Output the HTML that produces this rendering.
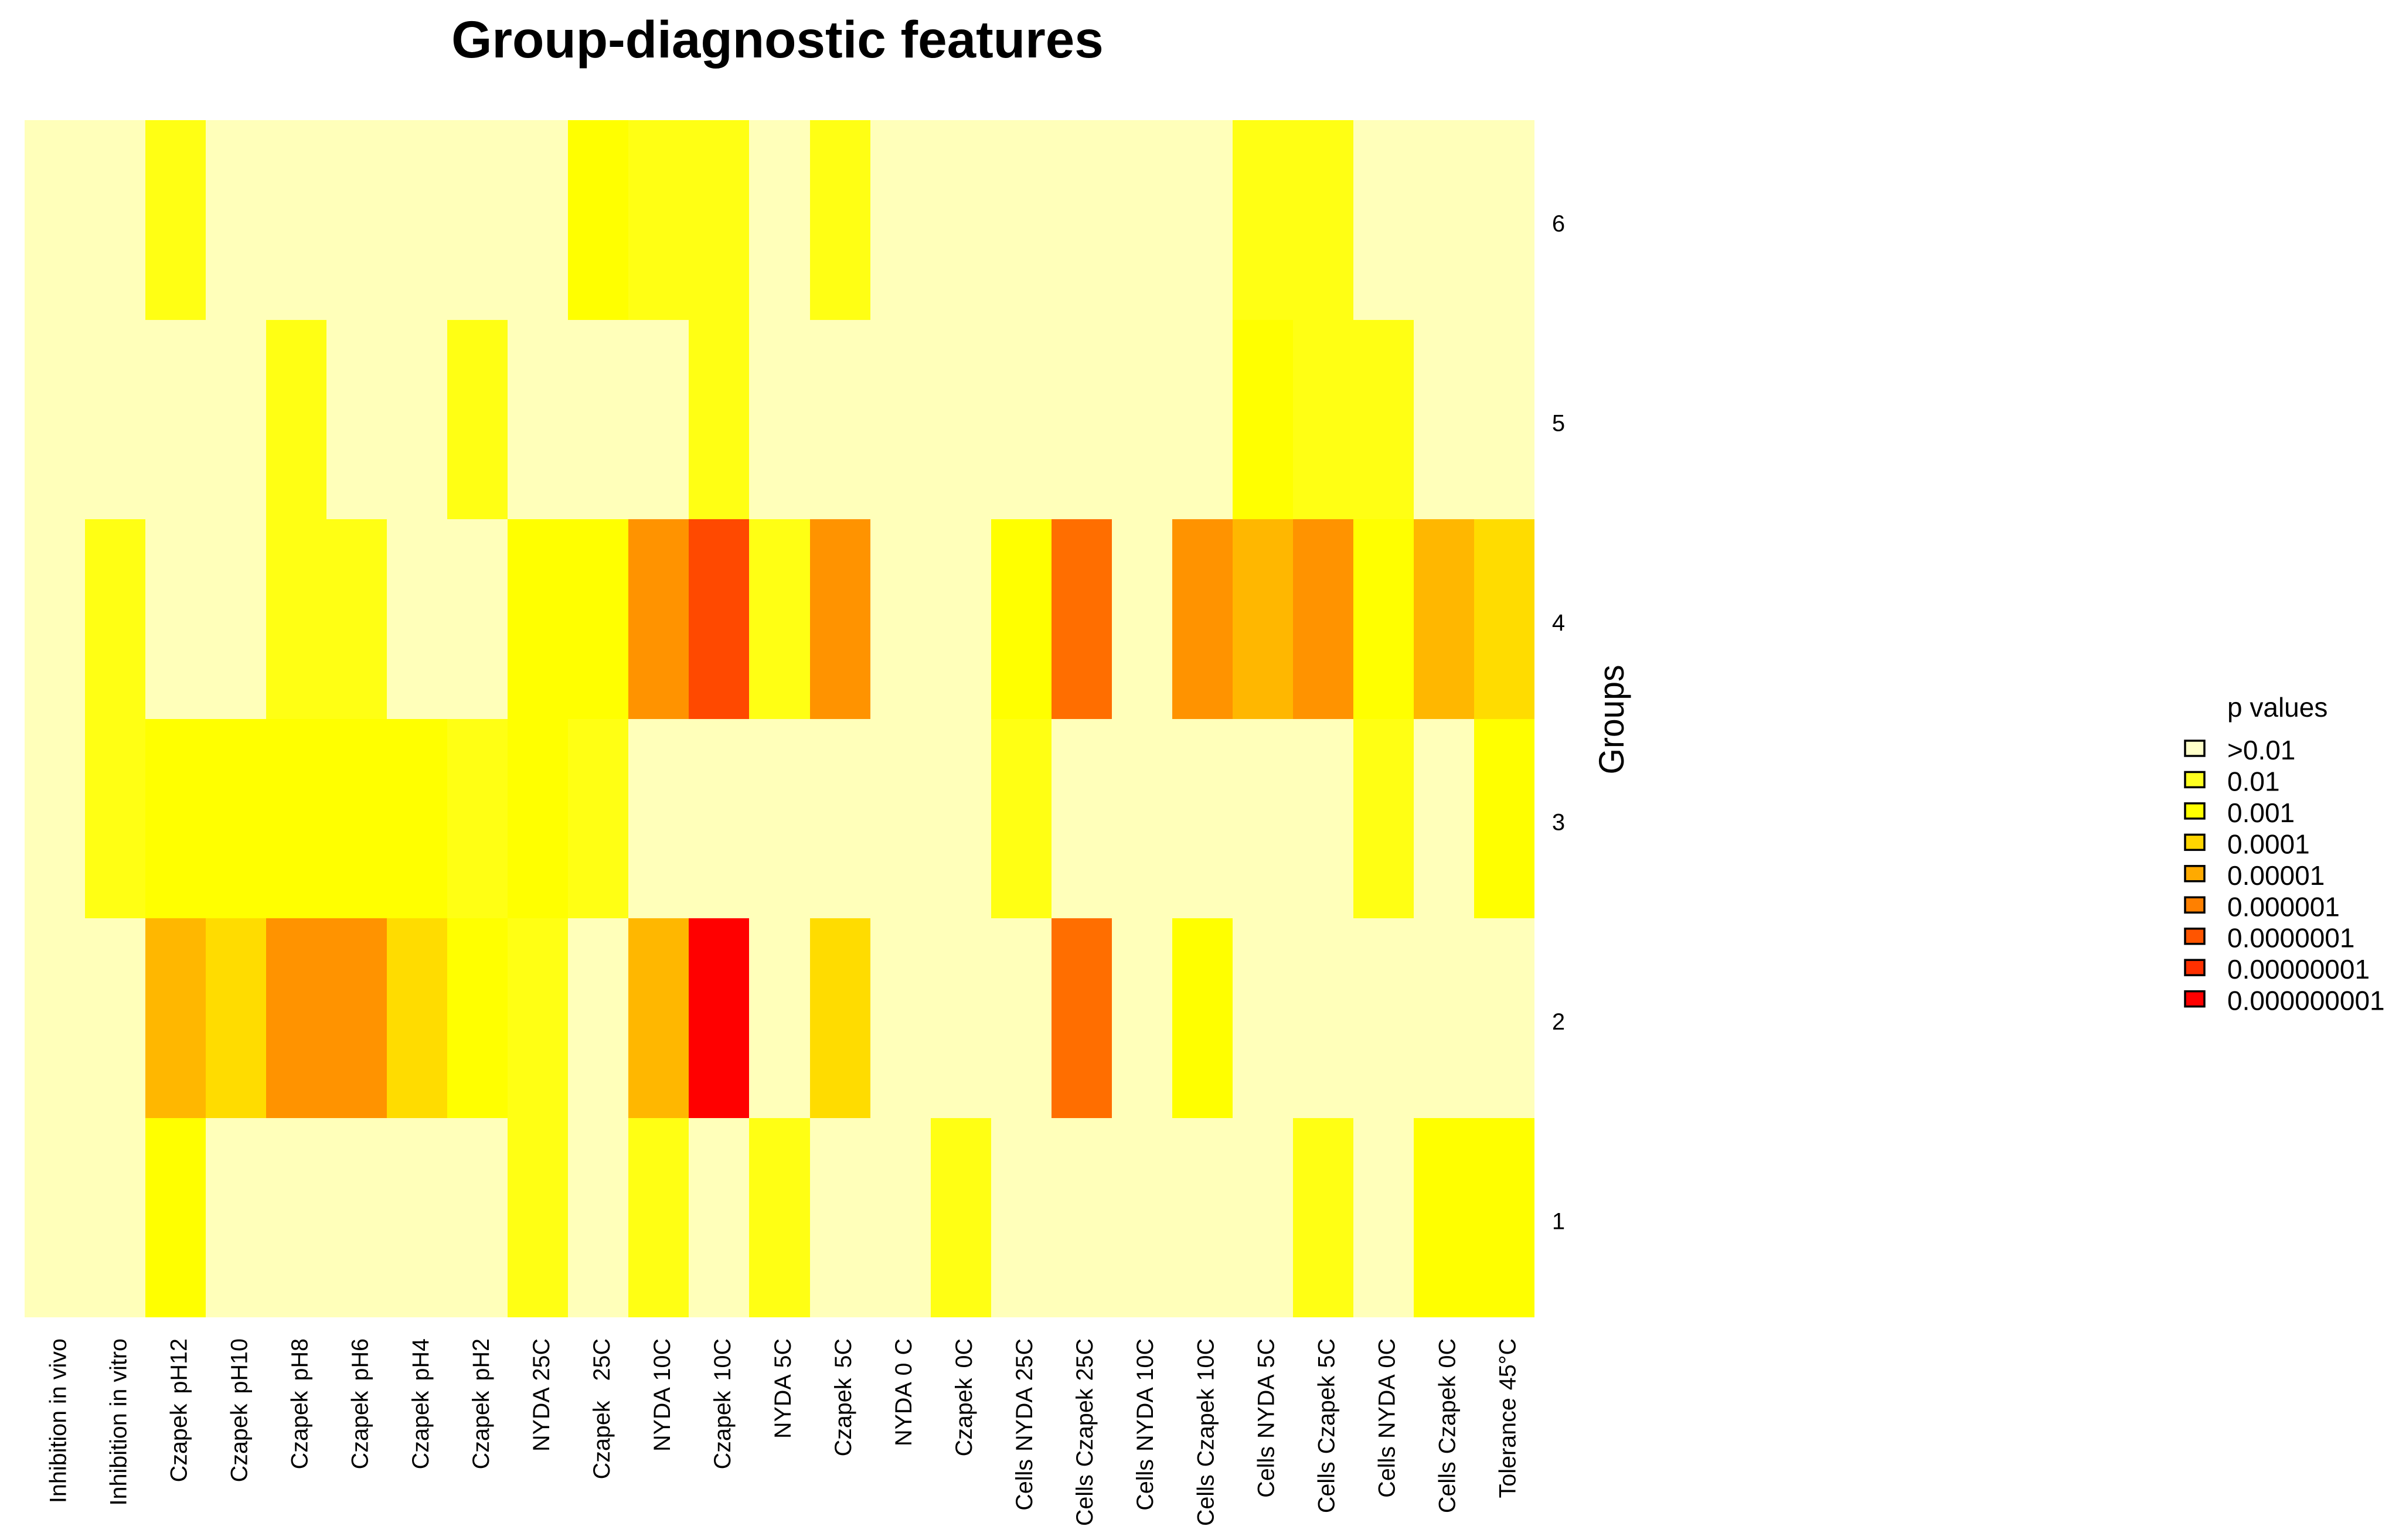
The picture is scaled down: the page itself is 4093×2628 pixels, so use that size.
<!DOCTYPE html>
<html lang="en">
<head>
<meta charset="utf-8">
<title>Group-diagnostic features</title>
<style>
html,body{margin:0;padding:0;background:#fff;width:4093px;height:2628px;overflow:hidden}
svg{display:block}
text{font-family:"Liberation Sans",Arial,sans-serif;fill:#000;white-space:pre}
</style>
</head>
<body>
<svg id="chart" xmlns="http://www.w3.org/2000/svg" width="4093" height="2628" viewBox="0 0 4093 2628">
  <rect x="0" y="0" width="4093" height="2628" fill="#fff"/>
  <text x="1326.5" y="98" text-anchor="middle" font-size="89" font-weight="700">Group-diagnostic features</text>
  <text transform="translate(2770,1228) rotate(-90)" text-anchor="middle" font-size="60" textLength="187" lengthAdjust="spacingAndGlyphs">Groups</text>
  <text x="3800" y="1223" font-size="46">p values</text>
  <g id="cells"></g>
  <g id="xlabels"></g>
  <g id="ylabels"></g>
  <g id="legend"></g>
</svg>
<script>
var features = ['Inhibition in vivo','Inhibition in vitro','Czapek pH12','Czapek pH10','Czapek pH8','Czapek pH6','Czapek pH4','Czapek pH2','NYDA 25C','Czapek  25C','NYDA 10C','Czapek 10C','NYDA 5C','Czapek 5C','NYDA 0 C','Czapek 0C','Cells NYDA 25C','Cells Czapek 25C','Cells NYDA 10C','Cells Czapek 10C','Cells NYDA 5C','Cells Czapek 5C','Cells NYDA 0C','Cells Czapek 0C','Tolerance 45°C'];
var groups = ['6','5','4','3','2','1'];
var group6Levels = [0,0,1,0,0,0,0,0,0,2,1,1,0,1,0,0,0,0,0,0,1,1,0,0,0];
var group5Levels = [0,0,0,0,1,0,0,1,0,0,0,1,0,0,0,0,0,0,0,0,2,1,1,0,0];
var group4Levels = [0,1,0,0,1,1,0,0,2,2,5,7,1,5,0,0,2,6,0,5,4,5,2,4,3];
var group3Levels = [0,1,2,2,2,2,2,1,2,1,0,0,0,0,0,0,1,0,0,0,0,0,1,0,2];
var group2Levels = [0,0,4,3,5,5,3,2,1,0,4,8,0,3,0,0,0,6,0,2,0,0,0,0,0];
var group1Levels = [0,0,2,0,0,0,0,0,1,0,1,0,1,0,0,1,0,0,0,0,0,1,0,2,2];
var levelColors = ['#FFFFBA','#FFFF14','#FFFF00','#FFDC00','#FFB700','#FF9300','#FF6E00','#FF4900','#FF0000'];
var legendLabels = ['>0.01','0.01','0.001','0.0001','0.00001','0.000001','0.0000001','0.00000001','0.000000001'];
var legendColors = ['#FFFFC8','#FFFF20','#FFFF00','#FFD500','#FFAA00','#FF8000','#FF5500','#FF3000','#FF0000'];

var NS = 'http://www.w3.org/2000/svg';
var matrix = [group6Levels, group5Levels, group4Levels, group3Levels, group2Levels, group1Levels];
var plotLeft = 42, plotRight = 2618, plotTop = 205, plotBottom = 2248;
function xScale(i){ return plotLeft + i * (plotRight - plotLeft) / features.length; }
function yScale(i){ return plotTop + i * (plotBottom - plotTop) / groups.length; }
function make(tag){ return document.createElementNS(NS, tag); }
function wordGap(name){
  if (name.indexOf('Inhibition') === 0) { return 0; }
  if (name.indexOf('Czapek') === 0) { return 6; }
  return 2;
}

var cellsG = document.getElementById('cells');
var xG = document.getElementById('xlabels');
var yG = document.getElementById('ylabels');
var legendG = document.getElementById('legend');

matrix.forEach(function(row, r){
  row.forEach(function(level, c){
    var rect = make('rect');
    var x0 = Math.round(xScale(c)), x1 = Math.round(xScale(c + 1));
    var y0 = Math.round(yScale(r)), y1 = Math.round(yScale(r + 1));
    rect.setAttribute('x', x0);
    rect.setAttribute('y', y0);
    rect.setAttribute('width', x1 - x0);
    rect.setAttribute('height', y1 - y0);
    rect.setAttribute('fill', levelColors[level]);
    rect.setAttribute('shape-rendering', 'crispEdges');
    
    
    cellsG.appendChild(rect);
  });
});

features.forEach(function(name, i){
  var t = make('text');
  var cx = xScale(i + 0.5) + 19;
  t.setAttribute('transform', 'translate(' + cx + ',2284) rotate(-90)');
  t.setAttribute('text-anchor', 'end');
  t.setAttribute('font-size', '39.5');
  t.setAttribute('word-spacing', wordGap(name));
  t.setAttribute('xml:space', 'preserve');
  t.textContent = name;
  
  
  xG.appendChild(t);
});

groups.forEach(function(name, i){
  var t = make('text');
  t.setAttribute('x', 2659);
  t.setAttribute('y', yScale(i + 0.5) + 19.5);
  t.setAttribute('text-anchor', 'middle');
  t.setAttribute('font-size', '40');
  t.textContent = name;
  
  
  yG.appendChild(t);
});

legendLabels.forEach(function(label, i){
  var baseline = 1296 + 53.45 * i;
  var swatch = make('rect');
  swatch.setAttribute('x', 3728);
  swatch.setAttribute('y', baseline - 32);
  swatch.setAttribute('width', 33);
  swatch.setAttribute('height', 26);
  swatch.setAttribute('fill', legendColors[i]);
  swatch.setAttribute('stroke', '#000');
  swatch.setAttribute('stroke-width', '3.5');
  
  
  legendG.appendChild(swatch);
  var t = make('text');
  t.setAttribute('x', 3800);
  t.setAttribute('y', baseline);
  t.setAttribute('font-size', '46');
  t.textContent = label;
  
  
  legendG.appendChild(t);
});
</script>
</body>
</html>
